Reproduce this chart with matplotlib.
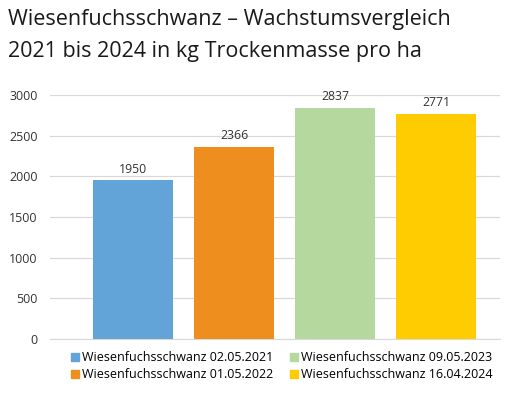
import numpy as np
import matplotlib.pyplot as plt
from matplotlib.patches import Patch

# Daten
labels = ["Wiesenfuchsschwanz 02.05.2021", "Wiesenfuchsschwanz 01.05.2022",
          "Wiesenfuchsschwanz 09.05.2023", "Wiesenfuchsschwanz 16.04.2024"]
werte = [1950, 2366, 2837, 2771]
farben = ["#62A3D8", "#EE8E1F", "#B4D89E", "#FECC00"]
yticks = [0, 500, 1000, 1500, 2000, 2500, 3000]

plt.rcParams['font.family'] = ['Open Sans', 'DejaVu Sans']

fig = plt.figure(figsize=(5.13, 3.99), dpi=100)
W, H = 513, 399
ax = fig.add_axes([50/W, (H-339)/H, 450/W, (339-95)/H])

x = np.arange(len(werte))
bars = ax.bar(x, werte, width=0.79, color=farben, zorder=3)
for xi, v in zip(x, werte):
    ax.text(xi, v + 60, str(v), ha='center', va='bottom', fontsize=8.8, color='#333333')

ax.set_xlim(-0.82, 3.63)
ax.set_ylim(0, 3000)
ax.set_yticks(yticks)
ax.set_xticks([])
ax.grid(axis='y', color='#d9d9d9', linewidth=0.9, zorder=0)
for s in ['top', 'right', 'left']:
    ax.spines[s].set_visible(False)
ax.spines['bottom'].set_color('#d9d9d9')
ax.tick_params(axis='y', length=0, pad=9, labelsize=9, labelcolor='#333333')

fig.text(8/W, 1-20/H, "Wiesenfuchsschwanz – Wachstumsvergleich", fontsize=15.5,
         va='center', ha='left', color='#1a1a1a')
fig.text(8/W, 1-52/H, "2021 bis 2024 in kg Trockenmasse pro ha", fontsize=15.5,
         va='center', ha='left', color='#1a1a1a')

handles = [Patch(color=c) for c in farben]
fig.legend(handles, labels, loc='upper left', bbox_to_anchor=(60/W, 1-340/H),
           ncol=2, frameon=False, fontsize=9.0, handlelength=0.6, handleheight=0.6,
           handletextpad=0.3, columnspacing=1.3, labelspacing=0.3)

fig.savefig("out.png", dpi=100)
